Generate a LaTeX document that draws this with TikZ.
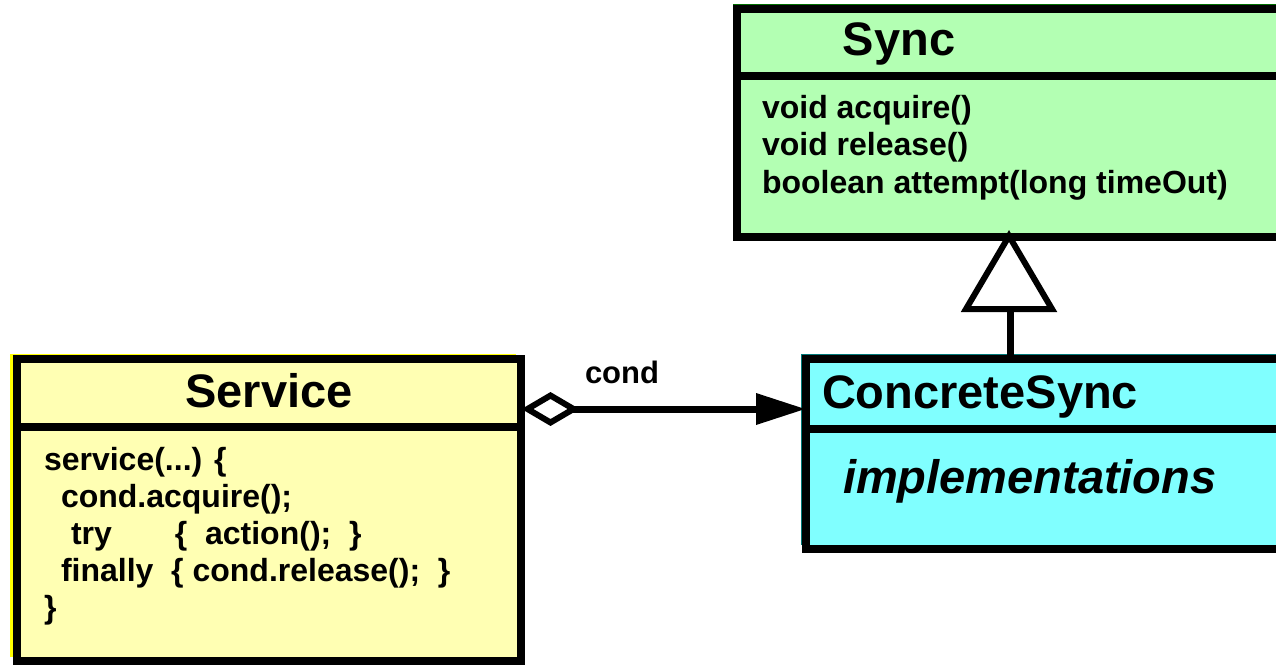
\documentclass[tikz,border=0pt]{standalone}
\usepackage{fontspec}
\setmainfont{Liberation Sans}
\usetikzlibrary{calc}
\definecolor{svcfill}{RGB}{255,255,179}
\definecolor{svcedge}{RGB}{255,255,0}
\definecolor{syncfill}{RGB}{179,255,179}
\definecolor{syncedge}{RGB}{0,110,0}
\definecolor{csfill}{RGB}{128,255,255}
\definecolor{csedge}{RGB}{0,120,120}
\begin{document}
\begin{tikzpicture}[x=1pt,y=-1pt,
  classbox/.style={draw=black, line width=8pt, anchor=north west, inner sep=0pt, outer sep=0pt, line join=miter},
  divider/.style={draw=black, line width=8pt},
  titletext/.style={font=\fontsize{47}{47}\selectfont\bfseries, inner sep=0pt, outer sep=0pt},
  membertext/.style={font=\fontsize{32}{32}\selectfont\bfseries, inner sep=0pt, outer sep=0pt, anchor=base west},
  labeltext/.style={font=\fontsize{31}{31}\selectfont\bfseries, inner sep=0pt, outer sep=0pt, anchor=base west},
  assocline/.style={line width=7pt},
  tipshape/.style={line width=6pt, line join=miter, fill=white, draw=black}
]
\clip (0,0) rectangle (1276,664);
\useasboundingbox (0,0) rectangle (1276,664);

% thin coloured edges outside the frames
\fill[svcedge] (10,353.5) rectangle (516,657);
\fill[syncedge] (733,3.8) rectangle (1300,230);
\fill[csedge] (801.2,353.8) rectangle (1300,545);

% class boxes
\node[classbox, fill=svcfill, minimum width=504pt, minimum height=302pt] (service) at (16.5,359) {};
\node[classbox, fill=syncfill, minimum width=560pt, minimum height=228pt] (sync) at (737,9) {};
\node[classbox, fill=csfill, minimum width=490pt, minimum height=190pt] (concrete) at (806,359) {};

% dividers
\draw[divider] ($(service.north west)+(0,67.5)$) -- ($(service.north east)+(0,67.5)$);
\draw[divider] ($(sync.north west)+(0,67)$) -- ($(sync.north east)+(0,67)$);
\draw[divider] ($(concrete.north west)+(0,70)$) -- ($(concrete.north east)+(0,70)$);

% titles
\node[titletext, anchor=base] (serviceT) at (269,407) {Service};
\node[titletext, anchor=base] (syncT) at (899,55) {Sync};
\node[titletext, anchor=base west] (concreteT) at (822,408) {ConcreteSync};

% Sync members
\node[membertext] (m1) at (762,118) {void acquire()};
\node[membertext] (m2) at (762,155.5) {void release()};
\node[membertext] (m3) at (762,193) {boolean attempt(long timeOut)};

% Service body
\node[membertext] (s1) at (44,470) {service(...) \{};
\node[membertext] (s2) at (61,507) {cond.acquire();};
\node[membertext] (s3) at (71,544) {try\hspace{63pt}\{\ \ action();\ \ \}};
\node[membertext] (s4) at (61,581) {finally\ \ \{ cond.release();\ \ \}};
\node[membertext] (s5) at (44,618) {\}};

% ConcreteSync body
\node[titletext, anchor=base west, font=\fontsize{47}{47}\selectfont\bfseries\itshape] (impl) at (843,493) {implementations};

% association Service -> ConcreteSync
\coordinate (aggY) at (0,409);
\coordinate (aggA) at (service.east |- aggY);
\coordinate (aggB) at (concrete.west |- aggY);
\draw[assocline] ($(aggA)+(50,0)$) -- ($(aggB)+(-47,0)$);
\draw[tipshape] ($(aggA)+(7,0)$) -- ($(aggA)+(30,-13.5)$) -- ($(aggA)+(53,0)$) -- ($(aggA)+(30,13.5)$) -- cycle;
\fill[black] ($(aggB)+(-1,0)$) -- ($(aggB)+(-50,-16)$) -- ($(aggB)+(-50,16)$) -- cycle;
\node[labeltext] (condL) at (585,383) {cond};

% inheritance ConcreteSync -> Sync
\coordinate (inhX) at (1010,0);
\coordinate (apexP) at (sync.south -| inhX);
\draw[line width=7pt] (concrete.north -| inhX) -- ($(apexP)+(0,72)$);
\draw[tipshape] ($(apexP)+(-1,-1)$) -- ($(apexP)+(-44,72)$) -- ($(apexP)+(42,72)$) -- cycle;
\end{tikzpicture}
\end{document}
